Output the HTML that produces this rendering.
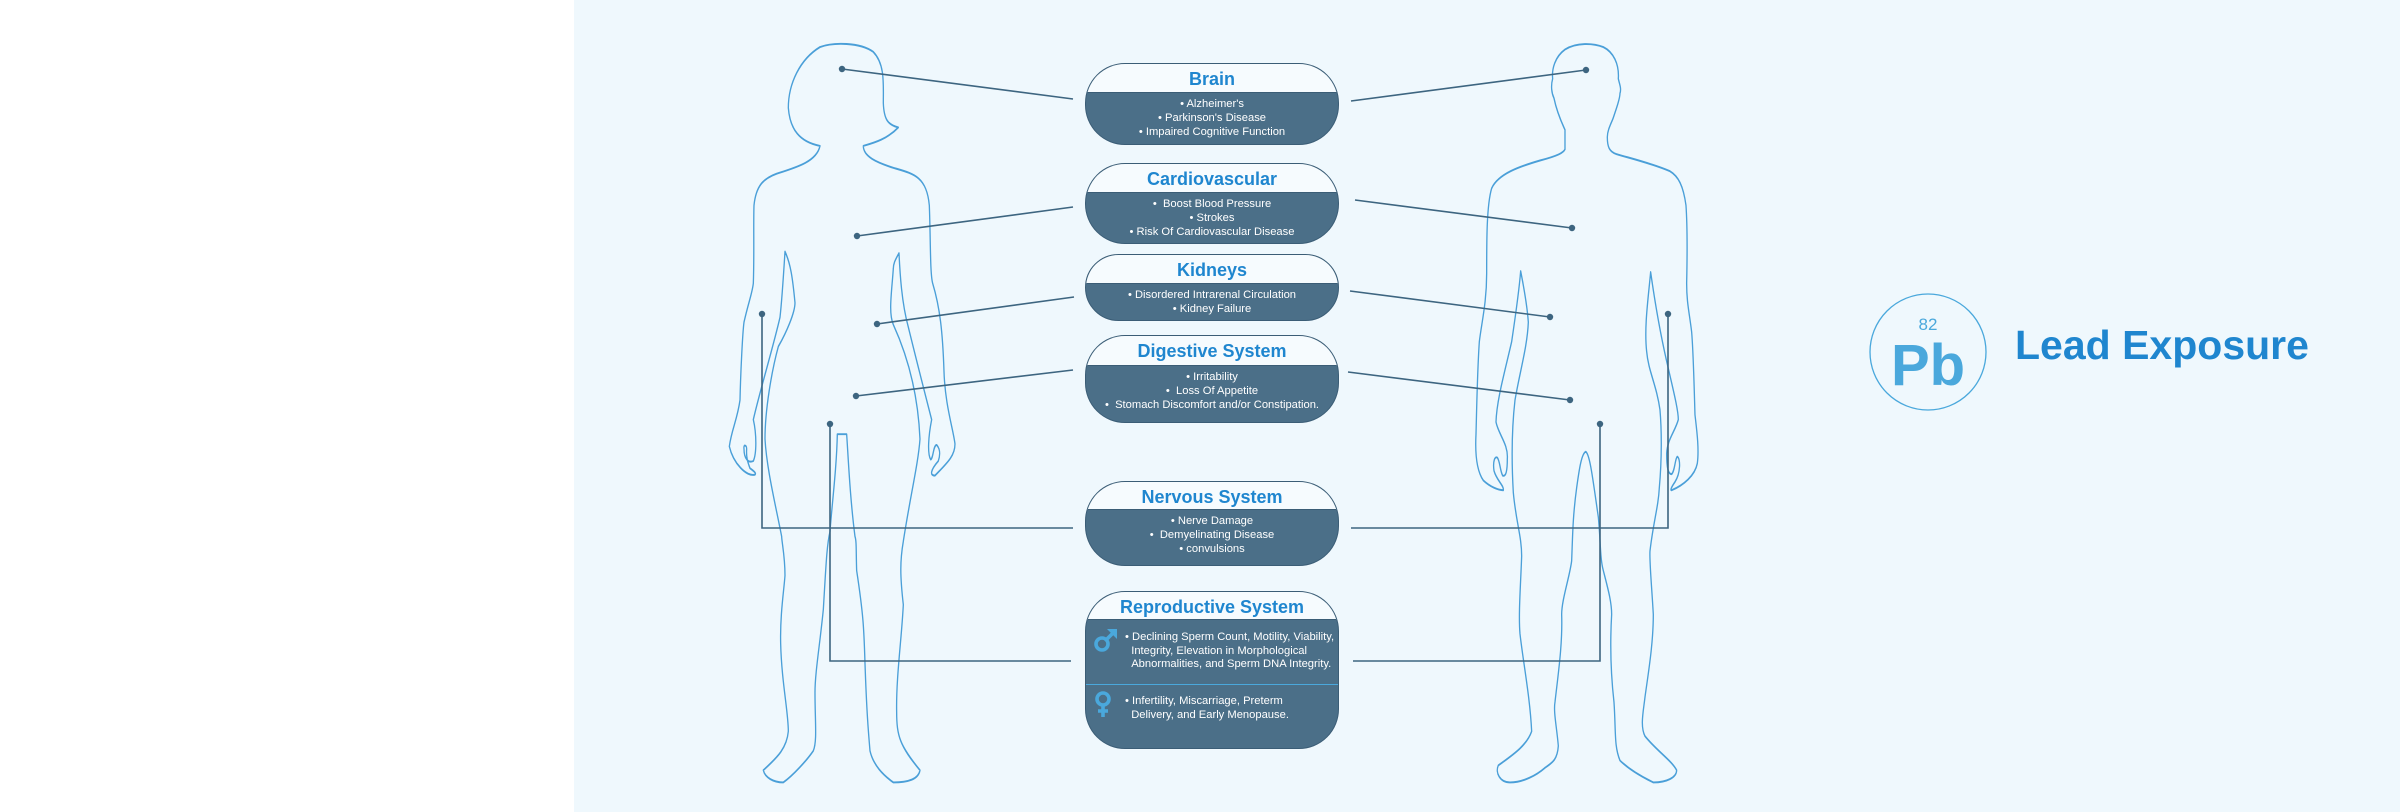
<!DOCTYPE html>
<html><head><meta charset="utf-8"><style>
html,body{margin:0;padding:0}
body{width:2400px;height:812px;position:relative;background:#fff;overflow:hidden;font-family:"Liberation Sans","DejaVu Sans",sans-serif}
#panel{position:absolute;left:574px;top:0;width:1826px;height:812px;background:#eff8fd}
.box{position:absolute;left:1085px;width:252px;border:1.6px solid #3b5d76;border-radius:40px;overflow:hidden;background:#4b6f88;box-sizing:content-box}
.hd{background:#f6fbfe;color:#1f86cf;font-weight:bold;font-size:18px;text-align:center;border-bottom:1px solid #3b5d76;box-sizing:border-box}
.bd{color:#fff;font-size:11.2px;line-height:14px;text-align:center;padding-top:4px}
.rp{position:relative;color:#fff;font-size:11.2px;line-height:13.5px}
svg{position:absolute;left:0;top:0}
</style></head><body>
<div id="panel"></div>
<svg width="2400" height="812" viewBox="0 0 2400 812">
 <g fill="none" stroke="#4a9fd8" stroke-width="4" stroke-linejoin="round" transform="translate(720,30) scale(0.3333,0.487)">
  <path d="M300,238 C240,230 210,205 205,160 C205,110 240,60 300,35 C340,25 420,25 460,45 C495,70 490,110 490,150 C492,185 505,195 535,200 C500,225 460,232 430,238 C430,260 470,272 520,283 C580,295 620,300 628,360 C632,430 630,500 638,520 C660,570 668,620 672,700 C675,770 700,820 705,850 C705,875 680,890 645,915 C630,915 630,905 655,885 C662,870 660,860 650,852 C640,852 640,880 632,882 C622,870 625,835 635,800 C620,760 590,680 565,610 C545,560 540,500 537,458 C528,470 520,478 520,490 C515,540 505,580 520,605 C570,680 595,760 600,840 C595,890 570,960 550,1050 C540,1090 540,1120 550,1180 C545,1250 528,1330 530,1400 C530,1450 540,1470 600,1520 C595,1540 560,1545 520,1545 C490,1530 460,1510 450,1480 C445,1440 440,1400 435,1300 C432,1230 430,1200 410,1110 C408,1070 410,1050 405,1040 C390,960 385,880 380,830 L352,830 C350,900 335,980 330,1030 C320,1060 318,1100 310,1190 C300,1260 285,1320 285,1360 C285,1420 292,1460 280,1480 C260,1500 220,1530 190,1545 C160,1545 135,1535 130,1520 C160,1500 200,1480 205,1440 C205,1400 185,1340 182,1260 C180,1200 192,1150 195,1120 C195,1080 185,1050 185,1040 C165,970 140,900 135,840 C135,780 155,700 175,650 C200,620 225,580 225,560 C218,510 212,480 195,455 C190,510 185,560 180,590 C160,650 120,740 100,800 C110,830 110,870 100,885 C85,890 72,880 72,860 C70,850 80,852 80,860 C78,880 85,890 90,900 C100,905 110,910 105,913 C80,918 40,890 28,855 C35,820 52,800 60,760 C62,700 68,620 72,600 C85,560 97,540 100,520 C103,460 100,400 102,360 C108,320 130,305 170,295 C230,282 290,270 300,238 Z"/>
 </g>
 <g fill="none" stroke="#4a9fd8" stroke-width="4" stroke-linejoin="round" transform="translate(1440,30) scale(0.3333,0.487)">
  <path d="M375,205 L375,245 C370,252 355,258 300,268 C240,280 175,295 155,325 C140,360 140,430 140,500 C140,560 125,600 118,640 C112,700 110,780 108,830 C105,870 110,905 130,925 C150,938 175,945 190,945 C192,935 170,925 162,905 C158,885 165,875 172,878 C180,885 180,905 188,915 C198,918 202,905 202,880 C205,850 175,830 168,805 C170,760 195,700 215,640 C228,580 238,530 242,495 C252,530 262,570 265,600 C262,650 240,700 225,760 C215,820 214,880 220,950 C228,1010 245,1040 245,1080 C242,1140 235,1200 240,1240 C250,1300 270,1370 275,1440 C260,1470 215,1490 175,1510 C165,1525 180,1545 210,1545 C250,1545 290,1530 315,1515 C335,1505 352,1500 355,1470 C350,1430 340,1400 345,1380 C355,1320 368,1260 365,1200 C365,1170 390,1120 395,1090 C398,1040 398,1000 410,940 C418,900 425,870 437,866 C450,870 460,930 475,1000 C482,1050 480,1085 490,1110 C505,1150 515,1175 515,1200 C510,1260 512,1320 522,1380 C528,1440 522,1470 540,1500 C570,1520 610,1535 640,1545 C680,1545 710,1535 710,1520 C695,1500 650,1480 615,1450 C600,1430 610,1400 615,1370 C625,1320 640,1260 640,1200 C635,1140 628,1090 630,1070 C640,1010 655,980 658,940 C666,880 665,820 660,780 C650,730 625,700 620,660 C612,610 625,550 632,497 C645,560 660,620 680,680 C700,740 715,780 715,800 C705,825 682,840 680,870 C680,900 685,912 695,912 C705,905 705,880 712,876 C722,880 722,910 705,928 C695,938 690,945 695,945 C730,935 765,915 772,890 C778,860 770,820 765,790 C762,720 760,660 755,620 C748,580 740,560 740,520 C742,460 742,400 738,360 C730,320 715,300 690,290 C640,275 580,265 530,255 C508,250 502,240 502,220 C502,205 515,190 520,180 C530,160 540,140 540,130 C545,120 538,110 535,100 C538,70 520,45 490,35 C460,27 410,25 375,40 C345,55 335,80 338,100 C332,115 335,130 342,140 C348,160 358,180 375,205 Z"/>
 </g>
 <g stroke="#3d6580" stroke-width="1.6" fill="none">
  <line x1="842" y1="69" x2="1073" y2="99"/>
  <line x1="1351" y1="101" x2="1586" y2="70"/>
  <line x1="857" y1="236" x2="1073" y2="207"/>
  <line x1="1355" y1="200" x2="1572" y2="228"/>
  <line x1="877" y1="324" x2="1074" y2="297"/>
  <line x1="1350" y1="291" x2="1550" y2="317"/>
  <line x1="856" y1="396" x2="1073" y2="370"/>
  <line x1="1348" y1="372" x2="1570" y2="400"/>
  <polyline points="1073,528 762,528 762,314"/>
  <polyline points="1351,528 1668,528 1668,314"/>
  <polyline points="1071,661 830,661 830,424"/>
  <polyline points="1353,661 1600,661 1600,424"/>
 </g>
 <g fill="#3d6580">
  <circle cx="842" cy="69" r="3.2"/><circle cx="1586" cy="70" r="3.2"/>
  <circle cx="857" cy="236" r="3.2"/><circle cx="1572" cy="228" r="3.2"/>
  <circle cx="877" cy="324" r="3.2"/><circle cx="1550" cy="317" r="3.2"/>
  <circle cx="856" cy="396" r="3.2"/><circle cx="1570" cy="400" r="3.2"/>
  <circle cx="762" cy="314" r="3.2"/><circle cx="1668" cy="314" r="3.2"/>
  <circle cx="830" cy="424" r="3.2"/><circle cx="1600" cy="424" r="3.2"/>
 </g>
 <circle cx="1928" cy="352" r="58" fill="none" stroke="#4aa8dc" stroke-width="1.3"/>
 <text x="1928" y="330" text-anchor="middle" font-family="Liberation Sans, sans-serif" font-size="17" fill="#4aa8dc">82</text>
 <text x="1928" y="385" text-anchor="middle" font-family="Liberation Sans, sans-serif" font-weight="bold" font-size="58" fill="#4aa8dc">Pb</text>
 <text x="2015" y="359" font-family="Liberation Sans, sans-serif" font-weight="bold" font-size="41" fill="#1f86cf">Lead Exposure</text>
</svg>

<div class="box" style="top:63px;height:80px"><div class="hd" style="height:29px;line-height:30px">Brain</div><div class="bd">• Alzheimer's<br>• Parkinson's Disease<br>• Impaired Cognitive Function</div></div>
<div class="box" style="top:163px;height:79px"><div class="hd" style="height:29px;line-height:30px">Cardiovascular</div><div class="bd">•&nbsp; Boost Blood Pressure<br>• Strokes<br>• Risk Of Cardiovascular Disease</div></div>
<div class="box" style="top:254px;height:65px"><div class="hd" style="height:29px;line-height:30px">Kidneys</div><div class="bd">• Disordered Intrarenal Circulation<br>• Kidney Failure</div></div>
<div class="box" style="top:335px;height:86px"><div class="hd" style="height:30px;line-height:31px">Digestive System</div><div class="bd">• Irritability<br>•&nbsp; Loss Of Appetite<br>•&nbsp; Stomach Discomfort and/or Constipation.</div></div>
<div class="box" style="top:481px;height:83px"><div class="hd" style="height:28px;line-height:30px">Nervous System</div><div class="bd">• Nerve Damage<br>•&nbsp; Demyelinating Disease<br>• convulsions</div></div>
<div class="box" style="top:591px;height:156px"><div class="hd" style="height:28px;line-height:30px">Reproductive System</div>
 <div class="rp" style="height:64px;border-bottom:1.5px solid #4aa8dc">
  <svg width="30" height="30" style="left:6px;top:6px" viewBox="0 0 30 30"><g fill="none" stroke="#4aa8dc" stroke-width="3.6"><circle cx="10" cy="18" r="6"/><line x1="14.5" y1="13.5" x2="22" y2="6"/></g><polygon points="15,3 25,3 25,13" fill="#4aa8dc"/></svg>
  <div style="position:absolute;left:39px;top:11px;width:215px">• Declining Sperm Count, Motility, Viability,<br>&nbsp;&nbsp;Integrity, Elevation in Morphological<br>&nbsp;&nbsp;Abnormalities, and Sperm DNA Integrity.</div>
 </div>
 <div class="rp" style="height:60px">
  <svg width="30" height="32" style="left:4px;top:4px" viewBox="0 0 30 32"><g fill="none" stroke="#4aa8dc" stroke-width="3.6"><circle cx="13" cy="10" r="6"/><line x1="13" y1="16" x2="13" y2="28"/><line x1="8" y1="22" x2="18" y2="22"/></g></svg>
  <div style="position:absolute;left:39px;top:10px;width:215px">• Infertility, Miscarriage, Preterm<br>&nbsp;&nbsp;Delivery, and Early Menopause.</div>
 </div>
</div>
</body></html>
